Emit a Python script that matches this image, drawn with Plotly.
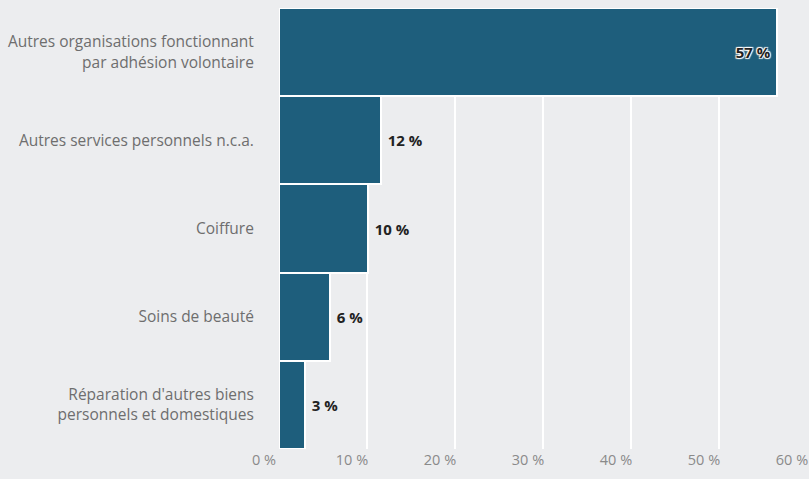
import plotly.graph_objects as go

categories = [
    "Autres organisations fonctionnant<br>par adhésion volontaire",
    "Autres services personnels n.c.a.",
    "Coiffure",
    "Soins de beauté",
    "Réparation d'autres biens<br>personnels et domestiques",
]
values = [56.6, 11.6, 10.1, 5.8, 3.0]
value_labels = ["57 %", "12 %", "10 %", "6 %", "3 %"]
x_ticks = [0, 10, 20, 30, 40, 50, 60]
x_tick_labels = ["0 %", "10 %", "20 %", "30 %", "40 %", "50 %", "60 %"]

positions = ["inside", "outside", "outside", "outside", "outside"]
shown_text = [
    (t + "\u2005") if p == "inside" else ("\u2005" + t)
    for t, p in zip(value_labels, positions)
]
FS = 15.5
halo = "1px 1px 1px white, -1px -1px 1px white, 1px -1px 1px white, -1px 1px 1px white"

fig = go.Figure(
    go.Bar(
        y=categories,
        x=values,
        orientation="h",
        text=shown_text,
        textposition=positions,
        insidetextanchor="end",
        textfont=dict(family="Open Sans", size=15, color="#222222", weight="bold"),
        outsidetextfont=dict(family="Open Sans", size=15, color="#222222", weight="bold"),
        insidetextfont=dict(family="Open Sans", size=15, color="#222222", weight="bold",
                            shadow=halo),
        cliponaxis=False,
        marker=dict(color="#1e5e7c", line=dict(color="white", width=2)),
        hoverinfo="skip",
    )
)

fig.update_layout(
    width=809,
    height=479,
    margin=dict(l=279, r=2, t=8, b=30),
    paper_bgcolor="#ecedef",
    plot_bgcolor="#ecedef",
    bargap=0,
    showlegend=False,
    font=dict(family="Open Sans", color="#666666"),
)
fig.update_xaxes(
    range=[0, 60],
    tickvals=x_ticks,
    ticktext=x_tick_labels,
    showgrid=True,
    gridcolor="white",
    gridwidth=1.5,
    zeroline=False,
    tickfont=dict(size=FS - 1, color="#8a8a8a"),
    ticklabelshift=-15,
    ticklabeloverflow="allow",
    ticks="",
)
fig.update_yaxes(
    autorange="reversed",
    tickfont=dict(size=FS, color="#6e6e6e"),
    ticks="outside",
    ticklen=21,
    tickcolor="rgba(0,0,0,0)",
    showgrid=False,
)

fig.write_html(
    "out.html",
    config={"displayModeBar": False},
    post_script="document.body.style.margin='0';document.body.style.background='#ecedef';",
)
